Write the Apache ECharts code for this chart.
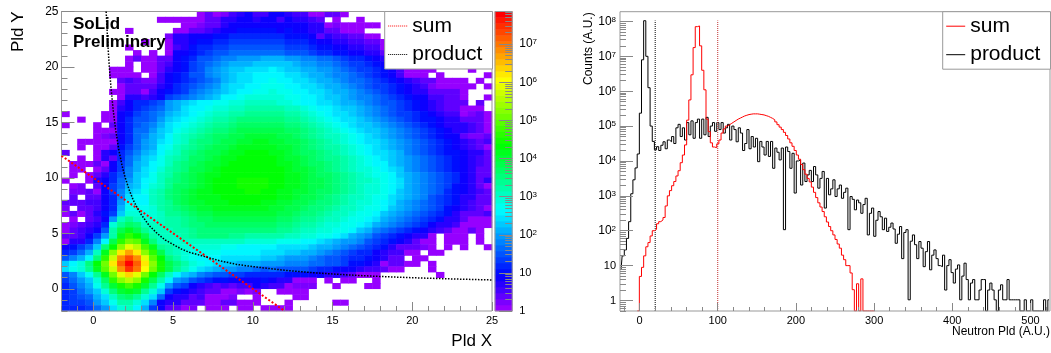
<!DOCTYPE html>
<html>
<head>
<meta charset="utf-8">
<script src="https://cdn.jsdelivr.net/npm/echarts@6/dist/echarts.min.js"></script>
<style>
  html, body { margin: 0; background: #fff; }
  #pid2d { position: absolute; left: 0; top: 0; width: 540px; height: 353px; }
  #pid1d { position: absolute; left: 540px; top: 0; width: 511px; height: 353px; }
</style>
</head>
<body>
<div id="pid2d"></div>
<div id="pid1d"></div>
<script>
// left panel: colour level (1-50, 0 = empty bin) per bin
// rows run from y=25 down to y=-2, columns from x=-2 to x=25, bins are 0.5 wide
const heatRows = [
[0,0,0,0,0,0,0,0,0,0,  0,0,0,0,0,0,0,1,3,1,  2,4,5,6,4,4,6,6,5,4,  4,1,1,3,3,1,0,0,0,0,  0,0,0,0,0,0,0,0,0,0,  0,0,0,0],
[0,0,0,0,0,0,0,0,0,0,  0,0,1,1,1,1,1,1,3,3,  5,5,6,6,5,6,6,4,6,5,  5,4,3,0,1,0,0,1,0,0,  0,0,0,0,0,0,0,0,0,0,  0,0,0,0],
[0,0,0,0,0,0,0,0,0,0,  0,0,0,0,0,1,1,2,3,3,  5,6,6,6,6,6,6,6,6,6,  6,5,5,1,2,1,1,1,1,1,  0,0,0,0,0,0,0,0,0,0,  0,0,0,0],
[0,0,0,0,0,0,0,0,1,0,  0,0,0,0,1,1,3,3,4,5,  6,6,7,7,7,7,7,6,7,6,  6,5,5,3,3,1,1,1,0,0,  0,0,0,0,0,0,0,0,0,0,  0,0,0,0],
[0,0,0,0,0,0,0,0,0,0,  0,0,0,2,5,5,6,6,6,7,  7,8,8,8,8,8,8,8,7,7,  7,6,3,5,4,4,3,3,1,1,  0,0,0,0,0,0,0,0,0,0,  0,0,0,0],
[0,0,0,0,0,0,0,0,0,0,  1,0,0,1,5,5,6,7,7,8,  8,9,9,9,9,9,9,9,8,8,  8,7,6,6,5,5,4,4,3,3,  1,0,0,0,0,0,0,0,0,0,  0,0,0,0],
[0,0,0,0,0,0,0,0,1,0,  0,0,0,1,4,5,7,8,8,9,  9,10,10,10,10,10,10,10,9,9,  9,8,7,7,6,6,5,5,4,4,  1,0,0,0,0,0,0,0,0,0,  0,0,0,0],
[0,0,0,0,0,0,0,0,0,1,  0,1,0,1,6,6,7,8,9,10,  10,11,11,11,11,11,11,11,10,10,  10,9,8,8,7,7,6,6,5,5,  3,0,0,0,0,0,0,0,0,0,  0,0,0,0],
[0,0,0,0,0,0,0,0,1,3,  1,1,3,3,6,7,8,10,10,11,  12,12,13,13,13,14,14,14,13,13,  12,12,11,11,10,9,8,8,7,6,  5,0,0,0,0,0,0,0,0,0,  0,0,0,0],
[0,0,0,0,0,0,0,0,1,0,  1,1,3,4,6,7,9,10,11,12,  13,14,14,14,15,15,15,15,15,14,  13,13,12,12,11,10,9,9,8,7,  6,0,0,0,0,0,0,0,0,0,  0,0,0,0],
[0,0,0,0,0,0,1,1,1,0,  1,1,3,5,6,7,9,10,12,13,  14,15,15,16,16,16,17,16,15,15,  14,14,13,13,12,11,10,9,9,8,  7,6,4,1,1,1,1,0,0,0,  0,1,0,0],
[0,0,0,0,0,0,1,1,1,1,  0,1,4,6,7,8,10,10,12,13,  14,15,16,16,17,17,17,17,16,16,  15,14,14,13,12,12,11,10,9,8,  7,6,4,1,1,1,0,1,0,0,  0,0,0,1],
[0,0,0,0,0,0,0,3,4,3,  2,2,4,6,7,8,9,10,11,12,  14,15,16,16,17,17,18,17,17,16,  16,15,14,14,13,12,11,11,10,9,  8,7,6,5,4,3,3,1,1,1,  1,0,1,0],
[0,0,0,0,0,0,0,1,3,3,  3,3,5,6,8,9,10,11,12,13,  15,16,16,17,17,18,18,18,17,17,  16,16,15,14,14,13,12,11,10,9,  9,8,7,6,5,4,2,1,1,1,  1,1,0,1],
[0,0,0,0,0,0,1,1,3,3,  1,4,6,7,8,9,11,12,13,14,  15,16,17,17,18,18,19,18,18,17,  17,16,16,15,14,14,13,12,11,10,  9,8,7,6,5,5,3,3,3,3,  1,0,0,0],
[0,0,0,0,0,0,0,1,5,5,  4,5,6,9,10,11,12,13,14,15,  17,17,18,19,19,19,19,19,18,18,  17,17,16,15,15,14,13,12,12,11,  10,9,8,7,6,6,4,4,3,3,  1,0,0,1],
[0,0,0,0,0,0,1,4,6,8,  8,9,10,13,14,15,16,17,17,18,  18,19,19,20,20,20,20,19,19,18,  17,17,16,16,15,14,14,13,12,11,  10,10,9,8,7,6,5,4,3,3,  3,0,3,0],
[0,0,0,0,0,0,1,5,6,8,  9,10,11,13,14,16,17,17,18,19,  19,20,20,21,21,21,21,21,20,20,  19,18,17,17,16,15,15,14,13,12,  11,10,9,8,7,6,5,4,3,3,  1,1,1,0],
[1,0,0,0,0,1,1,6,7,9,  10,11,12,14,15,16,17,18,19,20,  20,21,21,22,22,22,22,22,21,21,  20,19,18,17,16,16,15,14,13,12,  11,10,9,9,8,7,6,5,4,4,  1,2,3,1],
[0,0,1,0,0,1,1,6,8,10,  10,11,13,15,16,17,18,19,20,21,  21,22,23,23,23,23,23,23,22,22,  21,20,19,18,17,16,16,15,14,13,  12,11,10,9,8,7,7,6,5,5,  3,3,3,1],
[1,0,0,0,1,0,3,6,8,10,  11,12,14,16,17,18,19,20,21,22,  22,23,24,24,24,24,24,24,23,23,  22,21,20,19,18,17,16,15,15,14,  13,12,11,10,9,8,7,6,5,5,  5,4,3,1],
[0,0,0,0,1,1,1,6,8,11,  11,13,15,16,18,19,20,21,22,23,  23,24,25,25,25,25,25,25,24,24,  23,22,21,20,19,18,17,16,15,15,  14,13,12,11,10,9,8,7,6,5,  5,4,3,1],
[0,0,0,0,1,2,3,6,8,11,  12,14,15,17,19,20,21,22,23,24,  24,25,25,26,26,26,26,25,25,24,  23,22,21,20,20,19,18,17,16,15,  14,13,12,11,10,9,8,7,6,6,  3,2,2,3],
[0,0,1,1,1,1,1,6,8,11,  13,14,16,17,19,20,22,23,23,24,  25,25,26,26,27,27,26,26,25,25,  24,23,22,21,20,19,18,17,16,16,  15,14,13,12,11,10,9,8,7,6,  5,4,3,4],
[0,0,1,0,1,1,3,7,9,11,  13,14,17,18,20,21,22,23,24,25,  25,26,27,27,27,27,27,26,26,25,  24,23,22,21,21,20,19,18,17,16,  15,14,13,12,11,10,9,8,7,6,  5,4,3,1],
[3,0,0,0,1,5,6,8,10,12,  14,15,17,19,20,22,23,24,25,25,  26,27,27,28,28,28,27,27,26,25,  24,24,23,22,21,20,19,18,17,16,  16,15,14,12,11,10,9,8,7,7,  6,5,5,3],
[0,0,1,0,1,5,3,8,11,13,  15,16,18,20,21,22,24,24,25,26,  27,27,28,28,28,28,28,27,26,26,  25,24,23,22,22,21,20,19,18,17,  16,15,14,13,12,11,10,9,8,7,  6,5,4,3],
[0,1,1,1,3,1,6,9,11,14,  15,17,18,20,22,23,24,25,26,26,  27,28,28,28,28,28,28,27,27,26,  25,24,24,23,22,21,20,19,18,17,  17,15,14,13,12,11,10,9,8,7,  6,5,4,3],
[0,1,1,0,1,3,6,9,12,14,  16,17,19,21,22,23,25,25,26,27,  28,28,28,28,28,28,28,28,27,26,  26,25,24,23,22,21,20,19,19,18,  17,16,15,13,12,11,10,9,8,7,  6,5,3,3],
[0,1,0,1,3,5,8,10,12,15,  16,18,20,21,23,24,25,26,27,27,  28,28,28,28,28,28,28,28,27,27,  26,25,24,24,23,22,21,20,19,18,  18,17,15,14,13,12,11,10,9,8,  6,5,3,3],
[1,0,0,1,5,6,8,11,13,15,  17,18,20,22,23,24,25,26,27,28,  28,28,29,29,29,29,28,28,27,27,  26,25,25,24,23,22,21,20,20,19,  18,17,16,14,13,12,11,10,9,8,  6,5,3,5],
[0,1,2,0,3,6,9,11,14,15,  17,19,20,22,24,24,25,26,27,28,  28,28,29,29,29,29,28,28,27,27,  26,25,25,24,23,22,21,20,19,19,  18,17,16,14,13,12,11,10,9,7,  6,5,3,1],
[0,2,2,3,1,6,9,12,15,16,  18,20,21,23,24,25,26,27,27,28,  28,28,28,29,29,28,28,27,27,26,  26,25,24,24,23,22,21,20,19,19,  18,17,15,14,13,12,11,10,8,7,  6,5,4,3],
[0,3,0,3,3,6,8,12,16,17,  17,20,21,23,24,25,26,27,27,27,  28,28,28,28,28,28,28,27,27,26,  25,25,24,23,22,21,20,20,19,18,  18,16,15,14,13,12,10,9,8,7,  5,5,3,3],
[3,3,3,4,4,6,8,13,17,17,  17,20,21,22,24,25,26,26,27,27,  27,28,28,28,28,27,27,26,26,25,  25,24,23,23,22,21,20,19,19,18,  17,16,14,13,12,11,10,9,8,7,  5,4,3,3],
[2,0,3,3,4,6,8,14,18,18,  18,19,21,22,23,24,25,26,26,27,  27,27,27,27,27,27,26,26,25,25,  24,23,23,22,21,20,20,19,18,18,  17,15,14,13,12,11,10,9,7,6,  5,4,3,1],
[1,3,1,3,5,7,9,15,19,19,  18,19,20,22,22,23,24,25,25,26,  26,26,26,26,26,26,26,25,25,24,  23,23,22,21,20,20,19,18,18,17,  15,14,13,12,11,10,9,8,7,5,  3,3,3,4],
[0,1,0,3,4,6,13,20,22,20,  19,19,20,21,21,22,23,24,24,25,  25,25,25,25,25,25,25,24,24,23,  22,22,21,20,20,19,18,18,17,16,  14,13,12,11,10,9,8,7,5,5,  3,1,1,1],
[1,2,3,4,5,8,19,22,24,23,  20,20,20,21,21,22,23,23,24,24,  24,24,24,24,24,24,24,23,23,22,  21,21,20,19,19,18,18,17,16,14,  13,12,11,10,9,8,6,5,5,4,  1,1,1,1],
[1,3,4,5,6,10,21,25,27,25,  22,20,20,20,21,21,22,23,23,23,  23,23,23,23,23,23,23,22,22,21,  20,20,19,19,18,18,17,15,14,12,  11,10,9,8,7,6,5,4,3,1,  1,3,1,0],
[3,3,4,6,9,13,21,27,30,28,  25,21,20,20,20,21,22,23,23,23,  23,22,22,21,21,21,21,21,20,20,  19,19,18,18,17,16,14,13,12,10,  9,8,7,6,5,5,1,0,1,1,  1,0,1,0],
[1,5,5,8,12,17,25,30,33,32,  27,23,20,20,19,20,20,20,20,20,  20,20,20,19,19,19,19,18,18,18,  17,17,16,15,14,13,13,12,10,9,  8,7,6,5,3,1,1,0,1,1,  1,0,1,0],
[6,7,9,11,15,23,28,34,38,36,  31,27,22,21,20,19,19,19,19,19,  18,18,17,17,17,17,17,16,16,16,  16,15,14,14,13,12,11,10,9,8,  7,5,3,3,3,2,1,0,1,0,  1,0,0,1],
[8,9,11,14,20,27,34,40,43,40,  34,30,25,21,20,19,18,18,18,18,  17,17,17,17,17,16,16,16,15,15,  14,14,13,12,11,10,9,8,8,6,  5,4,4,1,1,0,1,1,0,0,  0,0,0,0],
[10,12,14,17,23,30,37,44,47,44,  38,32,28,23,21,19,18,17,17,17,  16,16,16,16,16,15,15,14,13,13,  13,12,11,10,10,9,8,8,7,6,  5,3,3,0,1,1,0,0,0,0,  0,0,0,0],
[15,17,19,23,28,33,40,46,50,46,  40,34,29,25,23,21,19,18,17,16,  15,15,14,14,14,13,13,13,12,12,  12,11,11,10,10,9,7,7,6,5,  1,3,3,1,1,0,1,0,0,0,  0,0,0,0],
[16,18,19,22,27,32,37,44,48,45,  39,33,29,25,22,20,18,16,15,14,  13,13,12,12,11,10,11,10,10,10,  10,9,8,8,7,6,6,5,4,4,  3,1,1,0,0,0,1,0,0,0,  0,0,0,0],
[10,12,15,18,22,27,33,38,41,38,  33,28,24,20,17,15,14,12,11,10,  10,9,9,8,8,8,8,8,7,7,  7,6,6,5,5,4,3,1,1,1,  0,0,0,0,0,0,0,1,0,0,  0,0,0,0],
[9,11,13,15,19,24,30,34,36,34,  29,25,21,17,13,12,10,9,8,7,  7,6,6,6,6,7,6,5,5,1,  1,1,0,1,0,1,1,0,0,1,  0,0,0,0,0,0,0,0,0,0,  0,0,0,0],
[8,10,12,14,18,22,26,29,31,29,  26,22,18,13,10,9,6,5,4,3,  4,3,4,4,6,5,4,4,1,2,  2,2,0,0,1,0,0,0,1,1,  0,0,0,0,0,0,0,0,0,0,  0,0,0,0],
[8,9,11,13,15,19,23,26,27,26,  22,19,15,9,7,6,5,4,3,3,  1,1,2,1,2,0,0,1,1,1,  1,0,0,0,0,0,0,0,0,0,  0,0,0,0,0,0,0,0,0,0,  0,0,0,0],
[8,9,10,11,14,16,20,23,24,22,  19,16,11,6,5,5,3,4,1,1,  1,2,0,0,1,0,0,0,0,1,  1,0,0,0,0,0,0,0,0,0,  0,0,0,0,0,0,0,0,0,0,  0,0,0,0],
[8,9,9,10,13,15,18,21,21,19,  16,12,6,5,5,3,3,3,1,1,  3,3,1,1,1,0,0,0,1,0,  0,0,0,0,1,1,0,0,0,0,  0,0,0,0,0,0,0,0,0,0,  0,0,0,0],
[8,8,8,9,11,13,16,19,20,17,  14,9,6,3,3,1,2,0,1,1,  1,0,1,1,0,1,1,1,1,0,  0,0,0,0,0,0,0,0,0,0,  0,0,0,0,0,0,0,0,0,0,  0,0,0,0]
];
const sumLineX = [-2, 12];
const sumLineY = [12, -2];
const productLineX = [0.8, 0.9, 1, 1.1, 1.25, 1.4, 1.6, 1.8, 2, 2.25, 2.5, 2.75, 3, 3.5, 4, 4.5, 5, 5.5, 6, 7, 8, 9, 10, 12, 14, 16, 18, 20, 22.5, 25];
const productLineY = [25, 22.2, 20, 18.2, 16, 14.3, 12.5, 11.1, 10, 8.9, 8, 7.3, 6.7, 5.7, 5, 4.4, 4, 3.6, 3.3, 2.9, 2.5, 2.2, 2, 1.67, 1.43, 1.25, 1.11, 1, 0.89, 0.8];
const zMax = 7.2e7;

// right panel: log10(counts) per 2.75 wide bin, starting at x=-25; -0.3 sits on the axis floor
const sumLog = [
null,null,null,null,null,null,null,null,-0.3,0.69,  0.95,1.28,1.54,1.66,1.85,2,2.04,2.2,2.26,2.31,
2.38,2.71,3,3.15,3.29,3.41,3.57,3.72,3.95,4.17,  4.46,5.17,5.75,6.47,7.25,7.85,7.87,7.3,6.6,6.04,
5.2,4.84,4.52,4.4,4.38,4.49,4.6,4.8,4.92,5,  5.04,5.08,5.12,5.16,5.2,5.23,5.26,5.29,5.31,5.33,
5.34,5.35,5.35,5.35,5.34,5.33,5.32,5.3,5.28,5.25,  5.22,5.18,5.12,5.04,4.97,4.9,4.82,4.73,4.63,4.52,
4.42,4.3,4.17,4.05,3.9,3.75,3.62,3.5,3.4,3.25,  3.1,2.95,2.8,2.68,2.55,2.4,2.25,2.12,2,1.88,
1.75,1.62,1.5,1.3,1.17,1,1,0.79,0.31,-0.3,  0.48,-0.3,0.62,-0.3,-0.3,-0.3,-0.3,-0.3,-0.3
];
const productLog = [
0.9,1.28,1.45,1.78,2.26,3.06,3.46,3.8,4.2,5.37,  6.9,8.02,7,6.1,5,4.56,4.32,4.41,4.3,4.45,
4.55,4.35,4.6,4.55,4.7,4.5,4.95,5.05,4.7,4.95,  4.6,5.1,4.75,5.15,4.65,5.1,5.2,4.65,5.2,4.75,
5.25,4.7,5,5.1,4.85,5.1,4.9,5.1,4.8,4.95,  5.05,4.6,5,4.9,4.55,4.95,4.8,4.3,4.5,4.9,
4.35,4.7,4.4,4.65,3.98,4.56,4.4,4.17,4.56,4.13,  4.56,3.79,4.37,4.25,4.03,4.37,2.03,4.4,4.27,3.79,
4.22,3.08,4,4.03,3.31,3.94,3.41,3.6,3.73,3.41,  3.84,3.6,3.22,3.5,3.7,2.65,3.5,3.03,3.2,3.46,
2.98,3.2,3.31,2.93,3.1,3.22,2.03,2.98,2.9,2.6,  2.88,2.8,2.5,2.75,2.93,1.88,2.5,2.65,1.84,2.3,
2.55,2.4,2.03,2.36,1.98,2.1,2.22,2.05,1.64,1.9,  2.12,1.2,1.95,2.03,0.02,1.7,1.88,1.6,1.2,1.69,
1.5,0.97,1.4,1.69,0.88,1.3,1.45,1.2,1,0.97,  1.3,0.3,1,1.17,0.8,0.5,0.9,1.02,0.02,0.7,
1.07,0.6,0.02,0.5,0.6,0.02,0.02,0.3,0.6,0.6,  -0.3,0.3,0.5,0.3,0.02,-0.3,0.3,0.45,0.02,0.02,
0.6,0.02,0.02,0.02,0.02,0.02,-0.3,-0.3,0.02,-0.3,  -0.3,0.02,-0.3,-0.3,-0.3,-0.3,-0.3,0.02,-0.3,0.02
];
const binStart = -25;
const binWidth = 2.75;
const cutX = [20, 100];
const cutY = [0.5, 1.07e8];

const paletteColors = ['#9600ff', '#0000ff', '#0080ff', '#00ffff', '#00ff80', '#00ff00', '#80ff00', '#ffff00', '#ff8000', '#ff0000'];
const frameColor = '#999';
const tickColor = '#888';
const fontName = '"Liberation Sans", Arial, sans-serif';

const range = (a, b, step) => { const out = []; for (let v = a; v <= b + 1e-9; v += step) out.push(v); return out; };

// 2..9 of every decade, for the short ticks of a log axis
function logMinorTicks(lo, hi) {
  const out = [];
  for (let k = -1; k < 9; k++) {
    for (let m = 2; m < 10; m++) {
      const v = m * Math.pow(10, k);
      if (v >= lo && v <= hi) out.push(v);
    }
  }
  return out;
}

function powerLabel(v) {
  const k = Math.round(Math.log10(v));
  return k < 2 ? String(Math.round(v)) : '{b|10}{s|' + k + '}';
}

function tickAxis(extra, values, length, labels) {
  return Object.assign({
    type: 'value',
    axisLine: { show: false, onZero: false },
    splitLine: { show: false },
    axisTick: { show: true, inside: true, length: length, customValues: values, lineStyle: { color: tickColor, width: 1 } },
    axisLabel: labels ? Object.assign({ show: true, customValues: values, color: '#000', fontFamily: fontName, fontSize: 11, margin: 3 }, labels) : { show: false },
    z: 8
  }, extra);
}

function textItem(text, x, y, size, extra) {
  return Object.assign({
    type: 'text', x: x, y: y, z: 30,
    style: Object.assign({ text: text, fill: '#000', font: size + 'px ' + fontName, textVerticalAlign: 'middle' }, extra || {})
  });
}

const legendBox = {
  orient: 'vertical', top: 11.5, itemWidth: 19, itemHeight: 20, itemGap: 7.5,
  padding: [4, 10.3, 4, 3], backgroundColor: '#fff', borderColor: frameColor, borderWidth: 1, borderRadius: 0,
  data: ['sum', 'product'], selectedMode: false, z: 20,
  itemStyle: { opacity: 0 },
  lineStyle: { width: 1 },
  textStyle: { fontFamily: fontName, fontSize: 21, color: '#000' }
};

// left panel
const heatCells = [];
heatRows.forEach((row, j) => row.forEach((level, i) => {
  if (level > 0) heatCells.push([i, heatRows.length - 1 - j, level]);
}));
const barCells = range(1, 50, 1).map((level, i) => [0, i, level]);

const chart2d = echarts.init(document.getElementById('pid2d'));
chart2d.setOption({
  animation: false,
  grid: [
    { left: 61.5, top: 11.5, width: 430.5, height: 299.5, show: true, borderColor: frameColor, borderWidth: 1, z: 6 },
    { left: 495, top: 11.5, width: 24.3, height: 299.5, show: true, borderColor: frameColor, borderWidth: 1, z: 6 }
  ],
  xAxis: [
    { type: 'category', gridIndex: 0, show: false, data: range(0, 53, 1) },
    tickAxis({ gridIndex: 0, min: -2, max: 25, position: 'bottom' }, range(0, 25, 5), 9, { formatter: v => String(v), margin: 4 }),
    tickAxis({ gridIndex: 0, min: -2, max: 25, position: 'bottom' }, range(-2, 25, 1), 5),
    { type: 'category', gridIndex: 1, show: false, data: ['z'] }
  ],
  yAxis: [
    { type: 'category', gridIndex: 0, show: false, data: range(0, 53, 1) },
    tickAxis({ gridIndex: 0, min: -2, max: 25, position: 'left' }, range(0, 25, 5), 13, { formatter: v => String(v), fontSize: 12 }),
    tickAxis({ gridIndex: 0, min: -2, max: 25, position: 'left' }, range(-2, 25, 1), 6),
    { type: 'category', gridIndex: 1, show: false, data: range(1, 50, 1) },
    tickAxis({ type: 'log', gridIndex: 1, min: 1, max: zMax, position: 'right' }, range(0, 7, 1).map(k => Math.pow(10, k)), 13, {
      formatter: powerLabel, margin: 7,
      rich: { b: { fontSize: 12, fontFamily: fontName, color: '#000' }, s: { fontSize: 8, fontFamily: fontName, color: '#000', verticalAlign: 'top' } }
    }),
    tickAxis({ type: 'log', gridIndex: 1, min: 1, max: zMax, position: 'right' }, logMinorTicks(1, zMax), 7)
  ],
  visualMap: { show: false, type: 'continuous', min: 1, max: 50, seriesIndex: [0, 1], dimension: 2, inRange: { color: paletteColors } },
  legend: Object.assign({}, legendBox, { left: 384.7 }),
  series: [
    { type: 'heatmap', name: 'counts', xAxisIndex: 0, yAxisIndex: 0, data: heatCells, itemStyle: { borderWidth: 0 }, emphasis: { disabled: true } },
    { type: 'heatmap', name: 'scale', xAxisIndex: 3, yAxisIndex: 3, data: barCells, itemStyle: { borderWidth: 0 }, emphasis: { disabled: true } },
    { type: 'line', name: 'sum', xAxisIndex: 1, yAxisIndex: 1, showSymbol: false, symbol: 'none', z: 7,
      data: sumLineX.map((x, i) => [x, sumLineY[i]]), lineStyle: { color: '#ff0000', width: 2, type: 'dotted' }, itemStyle: { color: '#ff0000' } },
    { type: 'line', name: 'product', xAxisIndex: 1, yAxisIndex: 1, showSymbol: false, symbol: 'none', z: 7,
      data: productLineX.map((x, i) => [x, productLineY[i]]), lineStyle: { color: '#000', width: 1.5, type: 'dotted' }, itemStyle: { color: '#000' } }
  ],
  graphic: [
    textItem('SoLid', 73, 24, 17, { font: 'bold 17px ' + fontName }),
    textItem('Preliminary', 73, 42, 17, { font: 'bold 17px ' + fontName }),
    textItem('Pld X', 492, 341, 17, { textAlign: 'right' }),
    Object.assign(textItem('Pld Y', 18, 52, 17), { rotation: Math.PI / 2 })
  ]
});

// right panel
const binCentre = i => binStart + binWidth * (i + 0.5);
const toCounts = list => list.map((v, i) => [binCentre(i), v === null ? null : Math.pow(10, v)]);
const yMax = 1.9e8;
const yMin = 0.5;

const chart1d = echarts.init(document.getElementById('pid1d'));
chart1d.setOption({
  animation: false,
  grid: { left: 80, top: 11.7, width: 430, height: 299.3, show: true, borderColor: frameColor, borderWidth: 1, z: 6 },
  xAxis: [
    tickAxis({ min: -25, max: 525, position: 'bottom' }, range(0, 500, 100), 8, { formatter: v => String(v), margin: 4 }),
    tickAxis({ min: -25, max: 525, position: 'bottom' }, range(-20, 520, 20), 4)
  ],
  yAxis: [
    tickAxis({ type: 'log', min: yMin, max: yMax, position: 'left' }, range(0, 8, 1).map(k => Math.pow(10, k)), 13, {
      formatter: powerLabel, margin: 4,
      rich: { b: { fontSize: 12, fontFamily: fontName, color: '#000' }, s: { fontSize: 8, fontFamily: fontName, color: '#000', verticalAlign: 'top' } }
    }),
    tickAxis({ type: 'log', min: yMin, max: yMax, position: 'left' }, logMinorTicks(yMin, yMax), 6)
  ],
  legend: Object.assign({}, legendBox, { top: 11.7, left: 402.7 }),
  series: [
    { type: 'line', name: 'sum', step: 'middle', showSymbol: false, symbol: 'none', z: 4,
      data: toCounts(sumLog), lineStyle: { color: '#ff0000', width: 1 }, itemStyle: { color: '#ff0000' } },
    { type: 'line', name: 'product', step: 'middle', showSymbol: false, symbol: 'none', z: 3,
      data: toCounts(productLog), lineStyle: { color: '#000', width: 1 }, itemStyle: { color: '#000' } },
    { type: 'line', name: 'cut20', showSymbol: false, symbol: 'none', z: 3,
      data: [[cutX[0], cutY[0]], [cutX[0], cutY[1]]], lineStyle: { color: '#000', width: 1, type: 'dotted' } },
    { type: 'line', name: 'cut100', showSymbol: false, symbol: 'none', z: 3,
      data: [[cutX[1], cutY[0]], [cutX[1], cutY[1]]], lineStyle: { color: '#c03030', width: 1, type: 'dotted' } }
  ],
  graphic: [
    textItem('Neutron Pld (A.U.)', 510, 331.7, 12, { textAlign: 'right' }),
    Object.assign(textItem('Counts (A.U.)', 49, 85, 12), { rotation: Math.PI / 2 })
  ]
});
</script>
</body>
</html>
